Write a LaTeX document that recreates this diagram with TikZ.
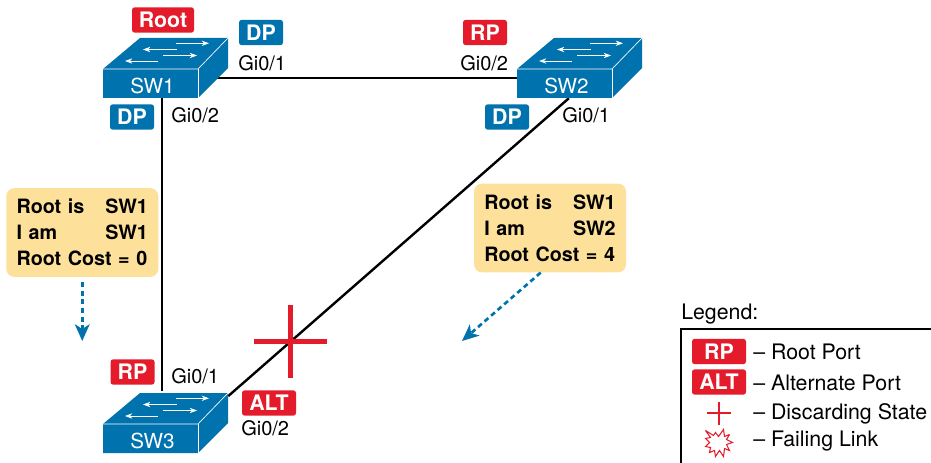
\documentclass[tikz,border=0pt]{standalone}
\usepackage{fontspec}
\setmainfont{TeX Gyre Heros}
\usetikzlibrary{arrows.meta,backgrounds}
\definecolor{swblue}{HTML}{0072AE}
\definecolor{tagred}{HTML}{E31B2B}
\definecolor{notetan}{HTML}{FDE09A}
\begin{document}
\begin{tikzpicture}[x=0.75pt,y=-0.75pt,
        swnode/.style = {minimum width=93.75pt,minimum height=45pt,inner sep=0pt},
        link/.style = {draw=black,line width=1.8pt},
        tag/.style = {fill=#1,rounded corners=2pt,text=white,minimum height=19pt,inner sep=0pt,
            font=\fontsize{16}{16}\selectfont\bfseries},
        dptag/.style = {tag=swblue,minimum width=33pt},
        rptag/.style = {tag=tagred,minimum width=33pt},
        alttag/.style = {tag=tagred,minimum width=40.5pt},
        port/.style = {anchor=west,inner sep=0pt,font=\fontsize{15}{15}\selectfont},
        note/.style = {fill=notetan,rounded corners=6pt,inner xsep=7.75pt,inner ysep=0pt,
            text width=98.5pt,minimum height=66.5pt,align=left,
            font=\fontsize{14.8}{19.6}\selectfont\bfseries},
        msg/.style = {draw=swblue,line width=2pt,dash pattern=on 3.75pt off 2.75pt,
            -{Stealth[length=12.5pt,width=11pt,inset=3.5pt]}},
        legendtext/.style = {anchor=west,inner sep=0pt,font=\fontsize{16}{16}\selectfont},
        arrowline/.style = {white,line width=0.7pt,-{Stealth[length=5.5pt,width=4pt]}},
        pics/switchbox/.style = {code = {
            \fill[swblue] (-62.5,1) -- (-25.5,-30) -- (62.5,-30) -- (62.5,0) -- (32.5,30) -- (-62.5,30) -- cycle;
            \draw[white,line width=0.5pt] (-62.5,1) -- (32.5,1) -- (62.5,-30);
            \draw[white,line width=0.5pt] (32.5,1) -- (32.5,30);
            \draw[arrowline] (10.5,-24.7) -- (43.5,-24.7);
            \draw[arrowline] (11.2,-18.5) -- (-22.5,-18.5);
            \draw[arrowline] (-2.5,-12.5) -- (31.5,-12.5);
            \draw[arrowline] (-7.5,-7) -- (-40.5,-7);
            \node[text=white,inner sep=0pt,font=\fontsize{15.5}{15.5}\selectfont] (-name) at (-13,18) {#1};
        }},
        pics/bar cross/.style = {code = {
            \draw[tagred,line width=#1] (-36.5,0) -- (36.5,0);
            \draw[tagred,line width=#1] (0,-36.5) -- (0,36.5);
        }},
        pics/key cross/.style = {code = {
            \draw[tagred,line width=#1] (-12,0) -- (12,0);
            \draw[tagred,line width=#1] (0,-11.5) -- (0,11.5);
        }},
        pics/key burst/.style = {code = {
            \draw[tagred,line width=#1,line join=miter,miter limit=3,fill=white]
                (-13,-13) -- (-5,-8) -- (-3,-11) -- (0,-7) -- (5,-14) -- (6,-7) -- (11,-9) -- (8,-4)
                -- (14,-1) -- (8,1) -- (11,7) -- (6,5) -- (5,13) -- (1,7) -- (-3,13) -- (-4,7)
                -- (-9,9) -- (-8,4) -- (-13,3) -- (-9,-1) -- (-13,-5) -- (-8,-6) -- cycle;
        }}]
    \useasboundingbox (0,0) rectangle (931,463);

    \node [swnode] (sw1) at (165.5,68) {};
    \node [swnode] (sw2) at (579.5,68) {};
    \node [swnode] (sw3) at (165.5,423) {};

    \begin{scope}[on background layer]
        \draw [link] ([yshift=-7.5pt]sw1.center) -- ([yshift=-7.5pt]sw2.center);
        \draw [link] ([xshift=-2.6pt]sw1.south) -- ([xshift=-2.6pt,yshift=1pt]sw3.north);
        \draw [link] ([xshift=-8pt]sw2.south) -- ([yshift=-2.5pt]sw3.north east);
    \end{scope}

    \pic (body1) at (sw1) {switchbox=SW1};
    \pic (body2) at (sw2) {switchbox=SW2};
    \pic (body3) at (sw3) {switchbox=SW3};

    \node [tag=tagred,minimum width=46.5pt] (rootTag) at (163,20) {Root};
    \node [dptag] (dp1a) at (261,32.5) {DP};
    \node [dptag] (dp1b) at (132,117) {DP};
    \node [rptag] (rp2) at (485,32.5) {RP};
    \node [dptag] (dp2) at (507,117) {DP};
    \node [rptag] (rp3) at (132.5,372) {RP};
    \node [alttag] (alt3) at (269,403) {ALT};

    \node [port] (port1a) at (238,63.5) {Gi0/1};
    \node [port] (port1b) at (171,115.5) {Gi0/2};
    \node [port] (port2a) at (460,63.5) {Gi0/2};
    \node [port] (port2b) at (562,115.5) {Gi0/1};
    \node [port] (port3a) at (171,376.5) {Gi0/1};
    \node [port] (port3b) at (241,428.5) {Gi0/2};

    \node [note] (note1) at (82.25,232.5) {Root is\hfill SW1\\I am\hfill SW1\\Root Cost = 0};
    \node [note] (note2) at (550,228) {Root is\hfill SW1\\I am\hfill SW2\\Root Cost = 4};

    \coordinate (end1) at (82.25,341);
    \coordinate (end2) at (462,341);
    \draw [msg] ([yshift=-3.75pt]note1.south) -- (end1);
    \draw [msg] ([xshift=-7pt]note2.south) -- (end2);

    \pic (cross) at (290.3,341) {bar cross=3.75pt};

    \node [legendtext] (legendTitle) at (681,314) {Legend:};
    \draw [line width=1.8pt] (931,329) -- (681,329) -- (681,463);
    \node [rptag,minimum width=40.5pt] (keyRP) at (719,351.5) {RP};
    \node [alttag] (keyALT) at (719,382) {ALT};
    \pic (keyCross) at (719,413) {key cross=1pt};
    \pic (keyBurst) at (718.5,443.5) {key burst=0.8pt};
    \node [legendtext] (keyText1) at (753,352) {-- Root Port};
    \node [legendtext] (keyText2) at (753,382.5) {-- Alternate Port};
    \node [legendtext] (keyText3) at (753,413.5) {-- Discarding State};
    \node [legendtext] (keyText4) at (753,441) {-- Failing Link};
\end{tikzpicture}
\end{document}
